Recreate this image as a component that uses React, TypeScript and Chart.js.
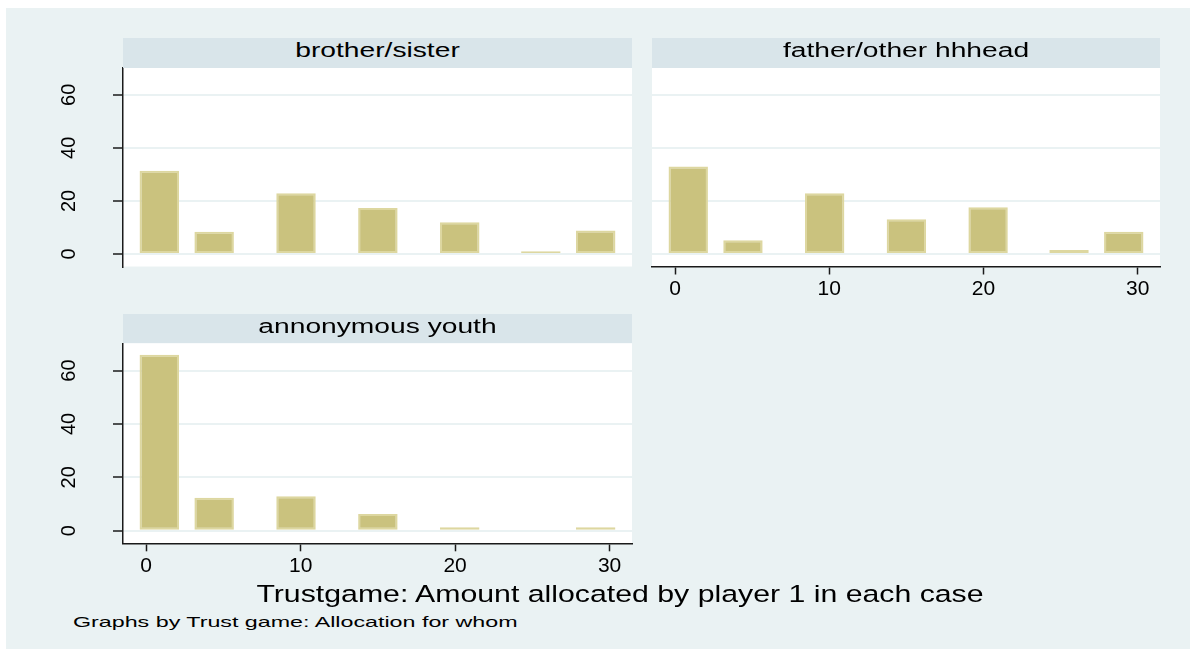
import React, { useEffect, useRef } from "react";
import { Chart, registerables } from "chart.js";

Chart.register(...registerables);

// ---- data ----
const binCenters = [0.85, 4.4, 9.7, 15.0, 20.3, 25.55, 29.1];
const brotherSisterPct = [31.4, 8.4, 22.9, 17.3, 12.0, 1.0, 8.9];
const fatherHeadPct = [33.0, 5.2, 22.9, 13.1, 17.6, 1.5, 8.4];
const youthPct = [65.9, 12.4, 12.9, 6.3, 1.3, 0, 1.3];
const xTickValues = [0, 10, 20, 30];
const yTickValues = [0, 20, 40, 60];
const panelTitles = ["brother/sister", "father/other hhhead", "annonymous youth"];
const xAxisTitle = "Trustgame: Amount allocated by player 1 in each case";
const noteText = "Graphs by Trust game: Allocation for whom";

// ---- styles ----
const FONT = "'Liberation Sans', Arial, Helvetica, sans-serif";
const PAGE_BG = "rgb(234,242,243)";
const STRIP_BG = "rgb(217,229,234)";
const GRID = "rgb(234,242,243)";
const AXIS = "#1a1a1a";
const BAR_FILL = "rgb(202,194,126)";
const BAR_EDGE = "rgb(221,215,160)";

const plotBackground = {
  id: "plotBackground",
  beforeDraw(chart: any) {
    const { ctx, chartArea: a } = chart;
    ctx.save();
    ctx.fillStyle = "#ffffff";
    ctx.fillRect(a.left, a.top, a.right - a.left, a.bottom - a.top);
    ctx.restore();
  },
};

type PanelProps = {
  values: number[];
  showY: boolean;
  showX: boolean;
  left: number;
  top: number;
  width: number;
  height: number;
  padding: { left: number; right: number; top: number; bottom: number };
};

function Panel({ values, showY, showX, left, top, width, height, padding }: PanelProps) {
  const ref = useRef<HTMLCanvasElement>(null);
  useEffect(() => {
    const chart = new Chart(ref.current as HTMLCanvasElement, {
      type: "bar",
      data: {
        datasets: [
          {
            data: binCenters.map((x, i) => ({ x, y: values[i] })) as any,
            backgroundColor: BAR_FILL,
            borderColor: BAR_EDGE,
            borderWidth: 2,
            borderSkipped: false,
            categoryPercentage: 1,
            barPercentage: 0.72,
          },
        ],
      },
      options: {
        responsive: false,
        animation: false,
        events: [],
        layout: { padding },
        plugins: { legend: { display: false }, tooltip: { enabled: false }, title: { display: false } },
        scales: {
          x: {
            type: "linear",
            min: -1.5,
            max: 31.45,
            offset: false,
            display: showX,
            afterBuildTicks: (s: any) => {
              s.ticks = xTickValues.map((v) => ({ value: v }));
            },
            grid: { offset: false, drawOnChartArea: false, tickLength: 8, tickColor: AXIS, tickWidth: 1.5 },
            border: { color: AXIS, width: 1.5 },
            ticks: { font: { family: FONT, size: 21 }, color: "#000", padding: 2, maxRotation: 0, minRotation: 0 },
            afterFit: (s: any) => {
              s.height = showX ? 40 : 0;
              s.paddingLeft = 0;
              s.paddingRight = 0;
            },
          },
          y: {
            type: "linear",
            min: -4.7,
            max: 70.2,
            afterBuildTicks: (s: any) => {
              s.ticks = yTickValues.map((v) => ({ value: v }));
            },
            grid: {
              color: GRID,
              lineWidth: 2,
              drawTicks: showY,
              tickLength: showY ? 10 : 0,
              tickColor: AXIS,
              tickWidth: 1.5,
            },
            border: { display: showY, color: AXIS, width: 1.5 },
            ticks: {
              display: showY,
              minRotation: 90,
              maxRotation: 90,
              crossAlign: "center",
              padding: 32,
              font: { family: FONT, size: 20 },
              color: "#000",
            },
            afterFit: (s: any) => {
              s.width = showY ? 83 : 0;
              s.paddingTop = 0;
              s.paddingBottom = 0;
            },
          },
        },
      } as any,
      plugins: [plotBackground],
    });
    return () => chart.destroy();
  }, []);
  return (
    <canvas
      ref={ref}
      width={width}
      height={height}
      style={{ position: "absolute", left, top, width, height }}
    />
  );
}

function Strip({ text, left, top, width }: { text: string; left: number; top: number; width: number }) {
  return (
    <div
      style={{
        position: "absolute",
        left,
        top,
        width,
        height: 29.4,
        background: STRIP_BG,
        textAlign: "center",
        overflow: "hidden",
      }}
    >
      <div
        style={{
          fontFamily: FONT,
          fontSize: 20,
          lineHeight: "29.4px",
          color: "#000",
          whiteSpace: "nowrap",
          transform: "translateY(-2.5px) scaleX(1.41)",
          transformOrigin: "center",
        }}
      >
        {text}
      </div>
    </div>
  );
}

export default function App() {
  return (
    <div
      style={{
        position: "absolute",
        left: 0,
        top: 0,
        width: 1196,
        height: 653,
        overflow: "hidden",
        background: "#ffffff",
      }}
    >
      <div style={{ position: "absolute", left: 6, top: 8, width: 1184, height: 641, background: PAGE_BG }} />
      <Panel
        values={brotherSisterPct}
        showY={true}
        showX={false}
        left={40}
        top={60}
        width={600}
        height={212}
        padding={{ left: 0, right: 8, top: 7.7, bottom: 5.5 }}
      />
      <Panel
        values={fatherHeadPct}
        showY={false}
        showX={true}
        left={640}
        top={60}
        width={540}
        height={250}
        padding={{ left: 12, right: 20, top: 7.7, bottom: 3.5 }}
      />
      <Panel
        values={youthPct}
        showY={true}
        showX={true}
        left={40}
        top={336}
        width={600}
        height={250}
        padding={{ left: 0, right: 8, top: 7.3, bottom: 2.7 }}
      />
      <Strip text={panelTitles[0]} left={123} top={38.3} width={509} />
      <Strip text={panelTitles[1]} left={652} top={38.3} width={508} />
      <Strip text={panelTitles[2]} left={123} top={313.9} width={509} />
      <div
        style={{
          position: "absolute",
          left: 220,
          top: 582.3,
          width: 800,
          textAlign: "center",
          fontFamily: FONT,
          fontSize: 24.5,
          lineHeight: 1,
          color: "#000",
          whiteSpace: "nowrap",
          transform: "scaleX(1.235)",
          transformOrigin: "center",
        }}
      >
        {xAxisTitle}
      </div>
      <div
        style={{
          position: "absolute",
          left: 73,
          top: 614,
          fontFamily: FONT,
          fontSize: 15,
          lineHeight: 1,
          color: "#000",
          whiteSpace: "nowrap",
          transform: "scaleX(1.55)",
          transformOrigin: "left center",
        }}
      >
        {noteText}
      </div>
    </div>
  );
}
